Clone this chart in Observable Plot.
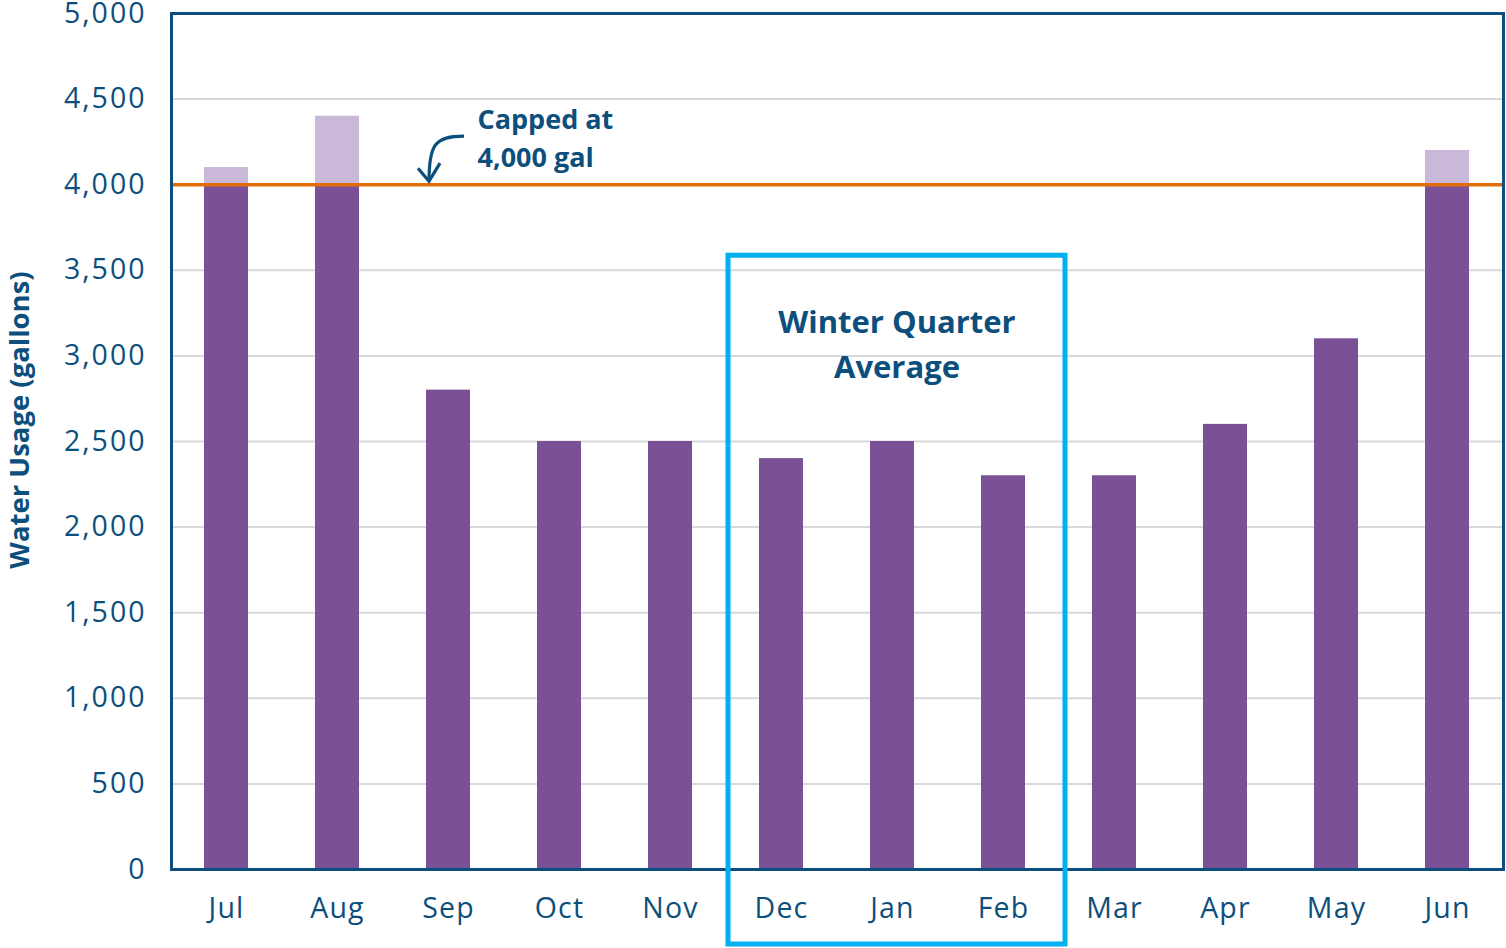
<!DOCTYPE html>
<html>
<head>
<meta charset="utf-8">
<script src="https://cdn.jsdelivr.net/npm/d3@7"></script>
<script src="https://cdn.jsdelivr.net/npm/@observablehq/plot@0.6"></script>
<style>
  html, body { margin: 0; padding: 0; background: #fff; }
  #chart svg { display: block; }
  #chart g[aria-label="y-axis tick label"] { letter-spacing: 2px; }
  #chart g[aria-label="x-axis tick label"] { letter-spacing: 1.2px; }
</style>
</head>
<body>
<div id="chart"></div>
<script>
const months = ["Jul","Aug","Sep","Oct","Nov","Dec","Jan","Feb","Mar","Apr","May","Jun"];
const usage  = [4100, 4400, 2800, 2500, 2500, 2400, 2500, 2300, 2300, 2600, 3100, 4200];
const cap = 4000;
const winterMonths = ["Dec","Jan","Feb"];
const yTicks = [0, 500, 1000, 1500, 2000, 2500, 3000, 3500, 4000, 4500, 5000];

const NAVY = "#0d4f7c";
const DARK = "#7a5195";
const LIGHT = "#c9b8d7";
const ORANGE = "#e36c0a";
const CYAN = "#00b0f0";
const FONT = "'Open Sans', 'Noto Sans', sans-serif";

const rows = months.map((m, i) => ({month: m, value: usage[i], capped: Math.min(usage[i], cap)}));
const over = rows.filter(d => d.value > cap);

const svgNS = "http://www.w3.org/2000/svg";
function el(tag, attrs) {
  const e = document.createElementNS(svgNS, tag);
  for (const k in attrs) e.setAttribute(k, attrs[k]);
  return e;
}
function bw(scale) {
  return typeof scale.bandwidth === "function" ? scale.bandwidth() : scale.bandwidth;
}

// Arrow annotation pointing at the cap line
function capArrow(index, scales) {
  const g = el("g", {});
  const tx = scales.x("Sep") + bw(scales.x) / 2 - 19;
  const ty = scales.y(cap) - 3;
  const sx = tx + 35, sy = ty - 45;
  g.appendChild(el("path", {
    d: `M${sx},${sy} C${tx + 6},${sy} ${tx},${sy + 8} ${tx},${ty}`,
    fill: "none", stroke: NAVY, "stroke-width": 3.2
  }));
  g.appendChild(el("path", {
    d: `M${tx - 11},${ty - 13} L${tx},${ty} L${tx + 11},${ty - 18}`,
    fill: "none", stroke: NAVY, "stroke-width": 3.2, "stroke-linejoin": "miter"
  }));
  return g;
}

// Winter quarter highlight box
function winterBox(index, scales) {
  const x0 = scales.x(winterMonths[0]) - 31;
  const x1 = scales.x(winterMonths[winterMonths.length - 1]) + bw(scales.x) + 40;
  const y0 = scales.y(3585);
  const y1 = scales.y(0) + 75;
  return el("rect", {
    x: x0, y: y0, width: x1 - x0, height: y1 - y0,
    fill: "none", stroke: CYAN, "stroke-width": 5
  });
}

// Y axis title
function yTitle(index, scales, values, dims) {
  const t = el("text", {
    transform: `translate(18,${(dims.marginTop + dims.height - dims.marginBottom) / 2 - 21}) rotate(-90)`,
    "text-anchor": "middle", "dominant-baseline": "central",
    fill: NAVY, "font-weight": "bold", "font-size": 27.5, "font-family": FONT
  });
  t.textContent = "Water Usage (gallons)";
  return t;
}

const chart = Plot.plot({
  width: 1506,
  height: 948,
  marginLeft: 171,
  marginRight: 3,
  marginTop: 13,
  marginBottom: 79,
  style: {fontFamily: FONT, color: NAVY, background: "#fff", overflow: "visible"},
  x: {domain: months, paddingInner: 0.6, paddingOuter: 0.3, label: null},
  y: {domain: [0, 5000], label: null},
  marks: [
    Plot.ruleY(yTicks.filter(v => v > 0 && v < 5000), {stroke: "#d9d9d9", strokeWidth: 2}),
    Plot.barY(rows, {x: "month", y: "capped", fill: DARK}),
    Plot.barY(over, {x: "month", y1: cap, y2: "value", fill: LIGHT}),
    Plot.ruleY([cap], {stroke: ORANGE, strokeWidth: 3.5}),
    Plot.frame({stroke: NAVY, strokeWidth: 3}),
    Plot.axisY({ticks: yTicks, tickSize: 0, tickPadding: 25, tickFormat: d3.format(","), fontSize: 28.5, fill: NAVY, label: null}),
    Plot.axisX({tickSize: 0, tickPadding: 28, fontSize: 28.5, fill: NAVY, label: null}),
    Plot.text(["Capped at\n4,000 gal"], {
      x: () => "Sep", y: () => cap, dx: 29, dy: -18,
      text: d => d, textAnchor: "start", lineAnchor: "bottom", lineHeight: 1.39,
      fontSize: 27, fontWeight: "bold", fill: NAVY
    }),
    capArrow,
    winterBox,
    Plot.text(["Winter Quarter\nAverage"], {
      x: () => "Jan", y: () => 3320, dx: 4.5,
      text: d => d, textAnchor: "middle", lineAnchor: "top", lineHeight: 1.45,
      fontSize: 31, fontWeight: "bold", fill: NAVY
    }),
    yTitle
  ]
});
document.getElementById("chart").appendChild(chart);
</script>
</body>
</html>
